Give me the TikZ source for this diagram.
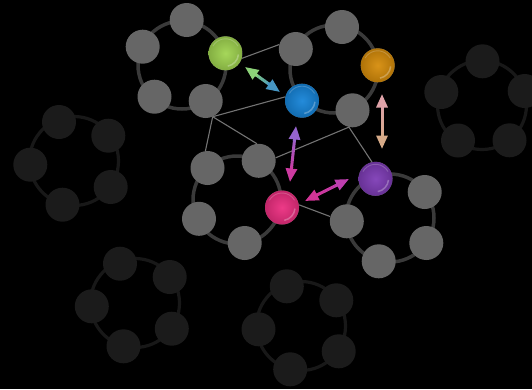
\documentclass[tikz,border=0pt]{standalone}
\usetikzlibrary{arrows.meta, calc}

\definecolor{cellgray}{RGB}{102,102,102}
\definecolor{ringgray}{RGB}{58,58,58}
\definecolor{dimgray}{RGB}{27,27,27}
\definecolor{dimringgray}{RGB}{24,24,24}
\definecolor{linkgray}{RGB}{115,115,115}
\definecolor{ballgreen}{RGB}{160,212,80}
\definecolor{ballblue}{RGB}{22,132,216}
\definecolor{ballorange}{RGB}{214,140,10}
\definecolor{ballpink}{RGB}{236,46,128}
\definecolor{ballpurple}{RGB}{126,60,182}
\definecolor{arrgreen}{RGB}{140,210,120}
\definecolor{arrteal}{RGB}{70,150,195}
\definecolor{arrrose}{RGB}{222,162,168}
\definecolor{arrsand}{RGB}{214,170,136}
\definecolor{arrviolet}{RGB}{150,100,205}
\definecolor{arrmagenta}{RGB}{205,58,160}
\definecolor{arrpink}{RGB}{210,52,150}
\definecolor{arrorchid}{RGB}{190,62,175}

\tikzset{
	cell/.style={
		circle,
		fill=cellgray,
		minimum size=34pt,
		inner sep=0pt,
	},
	dimcell/.style={
		cell,
		fill=dimgray,
	},
	ring/.style={
		draw=ringgray,
		line width=3.5pt,
	},
	dimring/.style={
		draw=dimringgray,
		line width=3.2pt,
	},
	link/.style={
		draw=linkgray,
		line width=1.1pt,
	},
	ball/.style={
		cell,
		inner color=#1!94!white,
		outer color=#1!82!black,
		path picture={
			% light crescent low right, thin glint on top
			\draw[white, opacity=0.28, line width=1.5pt]
				([shift={(-5:13pt)}]path picture bounding box.center)
				arc[start angle=-5, end angle=-80, radius=13pt];
			\draw[white, opacity=0.2, line width=0.9pt]
				([shift={(150:14.5pt)}]path picture bounding box.center)
				arc[start angle=150, end angle=30, radius=14.5pt];
		},
	},
}

% double arrow whose shaft fades from #3 to #4
\newcommand{\gradarrow}[4]{%
	\coordinate (s1) at ($(#1)!10pt!(#2)$);
	\coordinate (s2) at ($(#2)!10pt!(#1)$);
	\foreach \k in {0,...,9}{
		\pgfmathsetmacro\ta{\k/10}
		\pgfmathsetmacro\tb{(\k+1.1)/10}
		\pgfmathtruncatemacro\mix{95-10*\k}
		\draw[line width=3pt, #3!\mix!#4] ($(s1)!\ta!(s2)$) -- ($(s1)!\tb!(s2)$);
	}
	\draw[#3, line width=3pt, {Triangle[length=13.5pt,width=11pt]}-] (#1) -- ($(#1)!15pt!(#2)$);
	\draw[#4, line width=3pt, -{Triangle[length=13.5pt,width=11pt]}] ($(#2)!15pt!(#1)$) -- (#2);
}

\begin{document}
\begin{tikzpicture}[x=1pt, y=-1pt]
	\fill[black] (0,0) rectangle (532,389);
	\useasboundingbox (0,0) rectangle (532,389);

	% faded rings behind
	\foreach \cx/\cy in {74/161, 482/105, 135/303, 301/326}
		\draw[dimring] (\cx,\cy) circle[radius=44.5pt];
	\foreach \n/\x/\y in {
		r5a/59/122, r5b/108.3/135.7, r5c/30.3/164.7, r5d/110.7/187, r5e/62.5/204.7,
		r6a/482.5/61.3, r6b/441.3/92, r6c/524.7/91, r6d/458/140.5, r6e/509.5/140.3,
		r7a/120/263.7, r7b/169.7/277, r7c/91.8/306.3, r7d/171.8/328.7, r7e/123.5/346.3,
		r8a/286.8/286.3, r8b/336.3/300.3, r8c/258.5/329.3, r8d/338.7/351.3, r8e/290.2/369.3}
		\node[dimcell] (\n) at (\x,\y) {};

	% active rings
	\foreach \cx/\cy in {182/65, 334/69, 237/200, 390/218}
		\draw[ring] (\cx,\cy) circle[radius=44pt];
	\foreach \n/\x/\y in {
		r1a/186.7/20, r1b/142.7/46.7, r1d/154.5/96.7, r1e/205.7/101,
		r2a/342/27, r2b/295.8/49, r2e/352.5/110.3,
		r3a/258.7/160.8, r3b/207.5/168, r3d/199/218.8, r3e/244.7/243,
		r4b/424.7/192, r4c/346.8/221.3, r4d/426.3/243, r4e/378.7/261.3}
		\node[cell] (\n) at (\x,\y) {};

	\node[ball=ballgreen] (r1c) at (225.5,53.3) {};
	\node[ball=ballorange] (r2c) at (377.7,65.3) {};
	\node[ball=ballblue] (r2d) at (302,100.7) {};
	\node[ball=ballpink] (r3c) at (282,207.5) {};
	\node[ball=ballpurple] (r4a) at (375.5,178.8) {};

	% links
	\draw[link] (r1c.-17) -- (r2b.165);
	\draw[link] (r1e.-66) -- (r2d.167);
	\draw[link] (r1e.-66) -- (r3b.97);
	\draw[link] (r1e.-66) -- (r3a.96);
	\draw[link] (r3a.10) -- (r2e.-102) -- (r4a.102);
	\draw[link] (r3c.9) -- (r4c.164);

	% swaps
	\coordinate (gb1) at (245,67);
	\coordinate (gb2) at (280,92);
	\coordinate (op1) at (382,94);
	\coordinate (op2) at (382,149);
	\coordinate (bp1) at (296,126);
	\coordinate (bp2) at (290,182);
	\coordinate (pp1) at (305,201);
	\coordinate (pp2) at (349,179);
	\gradarrow{gb1}{gb2}{arrgreen}{arrteal}
	\gradarrow{op1}{op2}{arrrose}{arrsand}
	\gradarrow{bp1}{bp2}{arrviolet}{arrmagenta}
	\gradarrow{pp1}{pp2}{arrpink}{arrorchid}
\end{tikzpicture}
\end{document}
